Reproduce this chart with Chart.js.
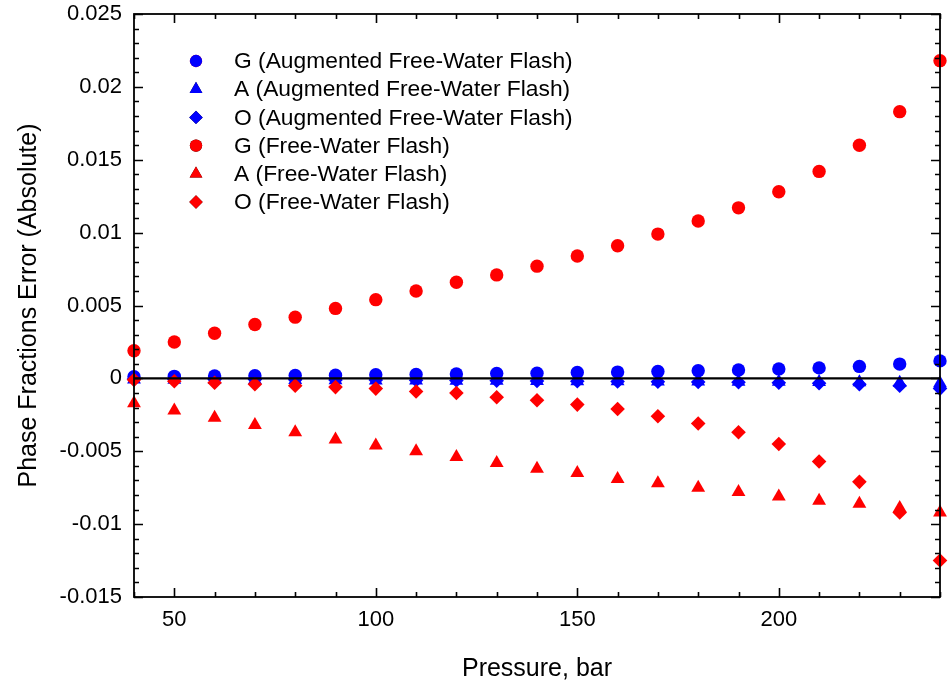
<!DOCTYPE html>
<html>
<head>
<meta charset="utf-8">
<script src="https://cdn.jsdelivr.net/npm/chart.js@4/dist/chart.umd.min.js"></script>
<style>
  html, body { margin: 0; padding: 0; background: #fff; }
  #wrap { width: 948px; height: 688px; }
</style>
</head>
<body>
<div id="wrap"><canvas id="c" width="948" height="688"></canvas></div>
<script>
// ---- data ----
const pressure = [40, 50, 60, 70, 80, 90, 100, 110, 120, 130, 140, 150, 160, 170, 180, 190, 200, 210, 220, 230, 240];

const gAugmented = [0.00012, 0.00014, 0.00016, 0.00018, 0.0002, 0.00022, 0.00025, 0.00027, 0.0003, 0.00033, 0.00036, 0.0004, 0.00043, 0.00047, 0.00052, 0.00058, 0.00065, 0.00072, 0.00082, 0.00098, 0.0012];
const aAugmented = [-0.00008, -0.00009, -0.0001, -0.00011, -0.00012, -0.00013, -0.00014, -0.00015, -0.00016, -0.00017, -0.00018, -0.00019, -0.0002, -0.00021, -0.00022, -0.00023, -0.00024, -0.00025, -0.00027, -0.0003, -0.00033];
const oAugmented = [-0.00005, -0.00006, -0.00007, -0.00008, -0.0001, -0.00011, -0.00012, -0.00013, -0.00015, -0.00016, -0.00018, -0.0002, -0.00021, -0.00023, -0.00025, -0.00027, -0.0003, -0.00033, -0.0004, -0.0005, -0.0007];

const gFreeWater = [0.0019, 0.0025, 0.0031, 0.0037, 0.0042, 0.0048, 0.0054, 0.0060, 0.0066, 0.0071, 0.0077, 0.0084, 0.0091, 0.0099, 0.0108, 0.0117, 0.0128, 0.0142, 0.0160, 0.0183, 0.0218];
const aFreeWater = [-0.0017, -0.0022, -0.0027, -0.0032, -0.0037, -0.0042, -0.0046, -0.0050, -0.0054, -0.0058, -0.0062, -0.0065, -0.0069, -0.0072, -0.0075, -0.0078, -0.0081, -0.0084, -0.0086, -0.0089, -0.0092];
const oFreeWater = [-0.0001, -0.0002, -0.0003, -0.0004, -0.0005, -0.0006, -0.0007, -0.0009, -0.0010, -0.0013, -0.0015, -0.0018, -0.0021, -0.0026, -0.0031, -0.0037, -0.0045, -0.0057, -0.0071, -0.0092, -0.0125];

const seriesLabels = [
  'G (Augmented Free-Water Flash)',
  'A (Augmented Free-Water Flash)',
  'O (Augmented Free-Water Flash)',
  'G (Free-Water Flash)',
  'A (Free-Water Flash)',
  'O (Free-Water Flash)'
];
const xTitle = 'Pressure, bar';
const yTitle = 'Phase Fractions Error (Absolute)';
const xLabelTicks = [50, 100, 150, 200];
const yLabelTicks = [-0.015, -0.01, -0.005, 0, 0.005, 0.01, 0.015, 0.02, 0.025];

const BLUE = '#0000ff';
const RED = '#ff0000';
const FONT = "'Liberation Sans', Arial, sans-serif";

function pts(vals) { return pressure.map((p, i) => ({ x: p, y: vals[i] })); }

const styles = [
  { data: gAugmented, color: BLUE, shape: 'circle', r: 6.7, order: 2 },
  { data: aAugmented, color: BLUE, shape: 'triangle', r: 8, order: 2 },
  { data: oAugmented, color: BLUE, shape: 'rectRot', r: 7.3, order: 2 },
  { data: gFreeWater, color: RED, shape: 'circle', r: 6.7, order: 1 },
  { data: aFreeWater, color: RED, shape: 'triangle', r: 8, order: 1 },
  { data: oFreeWater, color: RED, shape: 'rectRot', r: 7.3, order: 1 }
];

const datasets = styles.map((s, i) => ({
  label: seriesLabels[i],
  data: pts(s.data),
  pointStyle: s.shape,
  pointRadius: s.r,
  pointHoverRadius: s.r,
  backgroundColor: s.color,
  borderColor: s.color,
  borderWidth: 0,
  order: s.order,
  clip: false
}));

function isYMajor(v) { return yLabelTicks.some(t => Math.abs(t - v) < 1e-9); }
function isXMajor(v) { return xLabelTicks.includes(Math.round(v)); }

const framePlugin = {
  id: 'framePlugin',
  afterDatasetsDraw(chart) {
    const { ctx, chartArea: a, scales: { x, y } } = chart;
    ctx.save();
    ctx.strokeStyle = '#000';
    const y0 = y.getPixelForValue(0);
    ctx.lineWidth = 2.2;
    ctx.beginPath(); ctx.moveTo(a.left, y0); ctx.lineTo(a.right, y0); ctx.stroke();
    ctx.lineWidth = 1.6;
    ctx.beginPath();
    y.ticks.forEach(t => {
      const p = Math.round(y.getPixelForValue(t.value)) + 0.5;
      const L = isYMajor(t.value) ? 9 : 5;
      ctx.moveTo(a.left, p); ctx.lineTo(a.left + L, p);
      ctx.moveTo(a.right, p); ctx.lineTo(a.right - L, p);
    });
    x.ticks.forEach(t => {
      const p = Math.round(x.getPixelForValue(t.value)) + 0.5;
      const L = isXMajor(t.value) ? 9 : 5;
      ctx.moveTo(p, a.bottom); ctx.lineTo(p, a.bottom - L);
      ctx.moveTo(p, a.top); ctx.lineTo(p, a.top + L);
    });
    ctx.stroke();
    ctx.lineWidth = 1.8;
    ctx.strokeRect(a.left, a.top, a.right - a.left, a.bottom - a.top);
    ctx.restore();
  }
};

const legendPlugin = {
  id: 'insideLegend',
  afterDraw(chart) {
    const { ctx } = chart;
    ctx.save();
    ctx.font = '22.8px ' + FONT;
    ctx.textBaseline = 'middle';
    ctx.textAlign = 'left';
    const mx = 196, tx = 234, y0 = 61, dy = 28.2;
    chart.data.datasets.forEach((ds, i) => {
      const cy = y0 + i * dy;
      ctx.beginPath();
      Chart.helpers.drawPoint(ctx, {
        pointStyle: ds.pointStyle, radius: ds.pointRadius * 0.92, rotation: 0, borderWidth: 0
      }, mx, cy);
      ctx.fillStyle = ds.backgroundColor;
      ctx.fill();
      ctx.fillStyle = '#000';
      ctx.fillText(ds.label, tx, cy + 1);
    });
    ctx.restore();
  }
};

function zeroPad(s) { s.paddingTop = 0; s.paddingBottom = 0; s.paddingLeft = 0; s.paddingRight = 0; }

new Chart(document.getElementById('c'), {
  type: 'scatter',
  data: { datasets },
  options: {
    responsive: false,
    animation: false,
    events: [],
    layout: { padding: { left: 0, top: 14, right: 4, bottom: 0 } },
    plugins: { legend: { display: false }, tooltip: { enabled: false } },
    scales: {
      x: {
        type: 'linear',
        min: 40, max: 240,
        border: { display: false },
        grid: { display: false, drawTicks: false },
        ticks: {
          stepSize: 10, autoSkip: false, maxRotation: 0, maxTicksLimit: 100,
          padding: 10, color: '#000',
          font: { family: FONT, size: 22 },
          callback: v => isXMajor(v) ? String(Math.round(v)) : ''
        },
        title: { display: true, text: xTitle, color: '#000', font: { family: FONT, size: 25 }, padding: { top: 0, bottom: 4 } },
        afterFit: s => { s.height = 91; zeroPad(s); }
      },
      y: {
        type: 'linear',
        min: -0.015, max: 0.025,
        border: { display: false },
        grid: { display: false, drawTicks: false },
        ticks: {
          stepSize: 0.001, autoSkip: false, maxTicksLimit: 100,
          padding: 12, color: '#000',
          font: { family: FONT, size: 22 },
          callback: v => isYMajor(v) ? String(Math.round(v * 1000) / 1000) : ''
        },
        title: { display: true, text: yTitle, color: '#000', font: { family: FONT, size: 25 }, padding: { top: 14, bottom: 0 } },
        afterFit: s => { s.width = 134; zeroPad(s); }
      }
    }
  },
  plugins: [framePlugin, legendPlugin]
});
</script>
</body>
</html>
